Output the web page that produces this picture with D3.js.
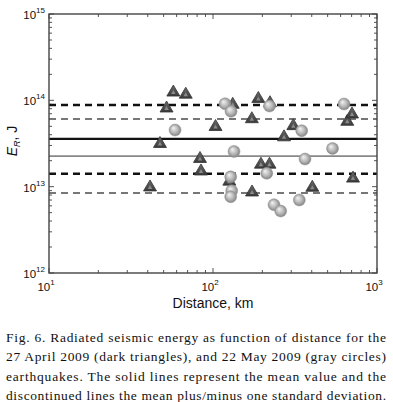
<!DOCTYPE html>
<html>
<head>
<meta charset="utf-8">
<script src="https://cdnjs.cloudflare.com/ajax/libs/d3/7.8.5/d3.min.js"></script>
<style>
  body { margin: 0; background: #fff; }
  svg { display: block; }
  .cap { font-family: "Liberation Serif", "Times New Roman", serif; }
  .sans { font-family: "Liberation Sans", Arial, sans-serif; }
</style>
</head>
<body>
<script>
// 27 April 2009 (dark triangles): distance km, energy J
const triDist = [41.3, 47.5, 52.1, 57.3, 68.2, 83.3, 84.5, 103.6, 125.8, 131.9, 172.5,
                 173, 189, 196, 221, 222.6, 271, 308.8, 403.3, 658.9, 704, 714];
const triE = [1.02e13, 3.25e13, 8.37e13, 1.28e14, 1.21e14, 2.18e13, 1.56e13, 5.11e13, 1.19e13,
              9.24e13, 6.29e13, 8.91e12, 1.08e14, 1.87e13, 1.87e13, 9.64e13, 3.88e13, 5.23e13,
              1.01e13, 5.87e13, 7.13e13, 1.29e13];
// 22 May 2009 (gray circles)
const cirDist = [58.7, 118.4, 128.8, 221, 134.3, 128.2, 130, 128.2, 212.6, 235.5, 258.7,
                 335.9, 347.5, 363.9, 535.6, 629.3];
const cirE = [4.53e13, 9.12e13, 7.46e13, 8.6e13, 2.56e13, 1.3e13, 8.98e12, 7.65e12, 1.43e13,
              6.18e12, 5.22e12, 7.01e12, 4.45e13, 2.09e13, 2.77e13, 9.07e13];

// mean and mean +/- one std dev
const triStats = {mean: 3.57e13, hi: 8.83e13, lo: 1.41e13};
const cirStats = {mean: 2.26e13, hi: 6.08e13, lo: 8.45e12};

const xTickExp = [1, 2, 3];
const yTickExp = [12, 13, 14, 15];

const captionLines = [
  "Fig. 6. Radiated seismic energy as function of distance for the",
  "27 April 2009 (dark triangles), and 22 May 2009 (gray circles)",
  "earthquakes. The solid lines represent the mean value and the",
  "discontinued lines the mean plus/minus one standard deviation."
];

const W = 393, H = 402;
const L = 49, R = 377, T = 14, B = 273;

const svg = d3.select("body").append("svg").attr("width", W).attr("height", H);

const x = d3.scaleLog().domain([10, 1000]).range([L, R]);
const y = d3.scaleLog().domain([1e12, 1e15]).range([B, T]);

const defs = svg.append("defs");
const rg = defs.append("radialGradient").attr("id", "ball")
  .attr("cx", "50%").attr("cy", "50%").attr("r", "55%").attr("fx", "35%").attr("fy", "32%");
rg.append("stop").attr("offset", "0%").attr("stop-color", "#f4f4f4");
rg.append("stop").attr("offset", "55%").attr("stop-color", "#b8b8b8");
rg.append("stop").attr("offset", "100%").attr("stop-color", "#7a7a7a");
const lg = defs.append("linearGradient").attr("id", "tri")
  .attr("x1", "0").attr("y1", "0").attr("x2", "0").attr("y2", "1");
lg.append("stop").attr("offset", "0%").attr("stop-color", "#6a6a6a");
lg.append("stop").attr("offset", "100%").attr("stop-color", "#3a3a3a");

// ticks (inward, all four sides)
const minorX = [], minorY = [];
for (let e = 1; e < 3; e++) for (let m = 2; m <= 9; m++) minorX.push(m * Math.pow(10, e));
for (let e = 12; e < 15; e++) for (let m = 2; m <= 9; m++) minorY.push(m * Math.pow(10, e));
const tk = svg.append("g").attr("stroke", "#555").attr("stroke-width", 1);
minorX.forEach(v => {
  tk.append("line").attr("x1", x(v)).attr("x2", x(v)).attr("y1", B).attr("y2", B - 3);
  tk.append("line").attr("x1", x(v)).attr("x2", x(v)).attr("y1", T).attr("y2", T + 3);
});
xTickExp.forEach(e => {
  const v = Math.pow(10, e);
  tk.append("line").attr("x1", x(v)).attr("x2", x(v)).attr("y1", B).attr("y2", B - 5);
  tk.append("line").attr("x1", x(v)).attr("x2", x(v)).attr("y1", T).attr("y2", T + 5);
});
minorY.forEach(v => {
  tk.append("line").attr("y1", y(v)).attr("y2", y(v)).attr("x1", L).attr("x2", L + 3);
  tk.append("line").attr("y1", y(v)).attr("y2", y(v)).attr("x1", R).attr("x2", R - 3);
});
yTickExp.forEach(e => {
  const v = Math.pow(10, e);
  tk.append("line").attr("y1", y(v)).attr("y2", y(v)).attr("x1", L).attr("x2", L + 5);
  tk.append("line").attr("y1", y(v)).attr("y2", y(v)).attr("x1", R).attr("x2", R - 5);
});

// mean and std lines
function hline(v, color, width, dash) {
  svg.append("line").attr("x1", L).attr("x2", R).attr("y1", y(v)).attr("y2", y(v))
    .attr("stroke", color).attr("stroke-width", width)
    .attr("stroke-dasharray", dash || null);
}
hline(triStats.hi, "#111", 2.4, "7,5");
hline(cirStats.hi, "#777", 2.2, "7,5");
hline(triStats.mean, "#111", 2.2);
hline(cirStats.mean, "#888", 1.8);
hline(triStats.lo, "#111", 2.4, "7,5");
hline(cirStats.lo, "#777", 2.2, "7,5");

// frame
svg.append("rect").attr("x", L).attr("y", T).attr("width", R - L).attr("height", B - T)
  .attr("fill", "none").attr("stroke", "#444").attr("stroke-width", 1.4);

// markers
svg.append("g").selectAll("path").data(d3.range(triDist.length)).join("path")
  .attr("d", "M0,-6L6.5,5L-6.5,5Z")
  .attr("transform", i => `translate(${x(triDist[i])},${y(triE[i])})`)
  .attr("fill", "url(#tri)").attr("stroke", "#333").attr("stroke-width", 0.8);
svg.append("g").selectAll("path").data(d3.range(triDist.length)).join("path")
  .attr("d", "M0,-1L2.2,3L-2.2,3Z")
  .attr("transform", i => `translate(${x(triDist[i])},${y(triE[i])})`)
  .attr("fill", "#8a8a8a");
svg.append("g").selectAll("circle").data(d3.range(cirDist.length)).join("circle")
  .attr("cx", i => x(cirDist[i])).attr("cy", i => y(cirE[i])).attr("r", 6)
  .attr("fill", "url(#ball)").attr("stroke", "#999").attr("stroke-width", 0.5);

// tick labels
xTickExp.forEach(e => {
  const t = svg.append("text").attr("class", "sans").attr("x", x(Math.pow(10, e)) - 3).attr("y", 291)
    .attr("text-anchor", "middle").attr("font-size", 11.5).attr("fill", "#111");
  t.append("tspan").text("10");
  t.append("tspan").attr("dy", -6).attr("font-size", 8).text(e);
});
yTickExp.forEach(e => {
  const t = svg.append("text").attr("class", "sans").attr("x", 45).attr("y", y(Math.pow(10, e)) + 5)
    .attr("text-anchor", "end").attr("font-size", 11.5).attr("fill", "#111");
  t.append("tspan").text("10");
  t.append("tspan").attr("dy", -6).attr("font-size", 8).text(e);
});

// axis titles
svg.append("text").attr("class", "sans").attr("x", 213).attr("y", 308).attr("text-anchor", "middle")
  .attr("font-size", 14).attr("fill", "#111").text("Distance, km");
const yl = svg.append("text").attr("class", "sans").attr("transform", "translate(17,141) rotate(-90)")
  .attr("text-anchor", "middle").attr("font-size", 14).attr("fill", "#111");
yl.append("tspan").attr("font-style", "italic").text("E");
yl.append("tspan").attr("dy", 3).attr("font-size", 9).attr("font-style", "italic").text("R");
yl.append("tspan").attr("dy", -3).text(", J");

// caption
svg.append("g").selectAll("text").data(captionLines).join("text")
  .attr("class", "cap")
  .attr("x", 6).attr("y", (d, i) => 342 + i * 19.3)
  .attr("textLength", 380).attr("lengthAdjust", "spacing")
  .attr("font-size", 13.5).attr("fill", "#111").text(d => d);
</script>
</body>
</html>
